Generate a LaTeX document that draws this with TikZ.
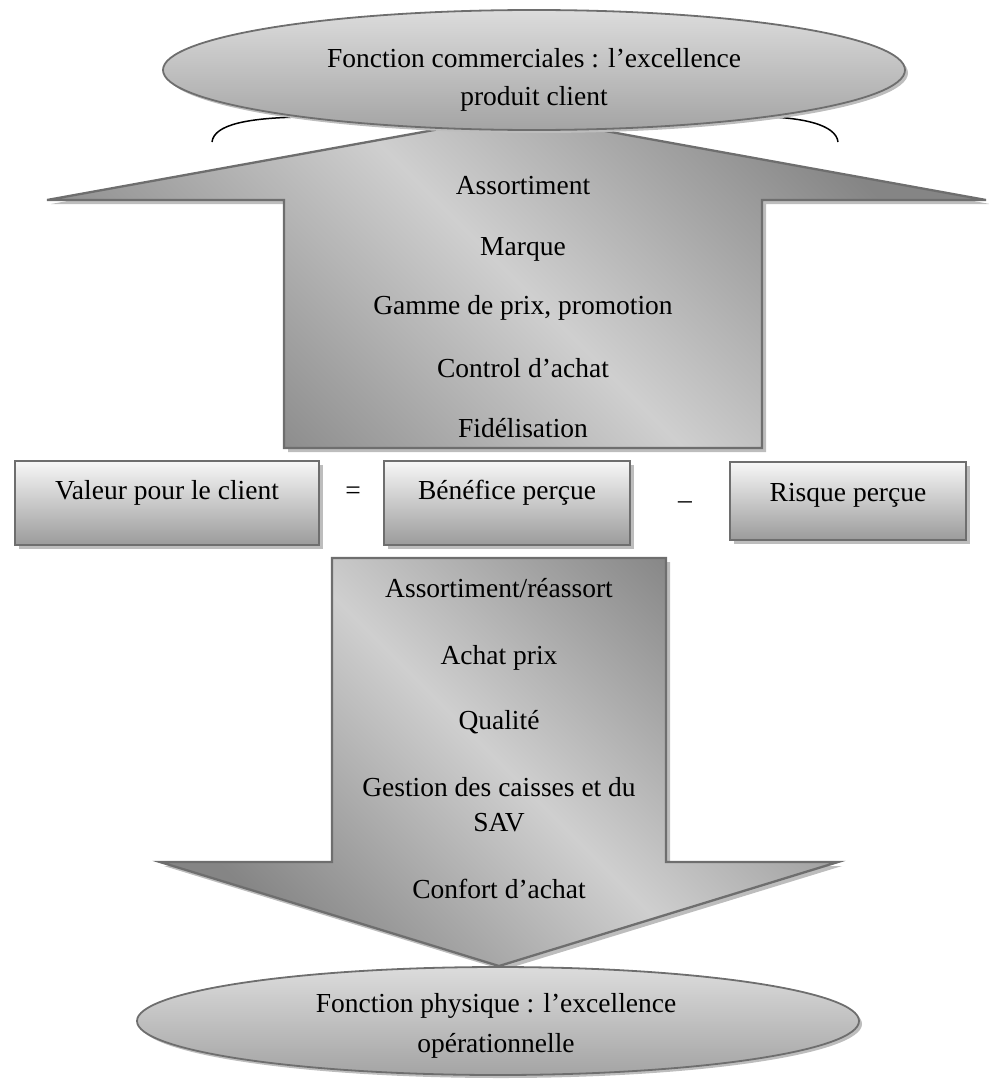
\documentclass[tikz,border=0pt]{standalone}
\usepackage{fontspec}
\setmainfont{Liberation Serif}
\usetikzlibrary{shapes.geometric,shadows}

\definecolor{edgegray}{HTML}{6E6E6E}
\definecolor{shadowgray}{HTML}{BDBDBD}
\definecolor{arrowdark}{HTML}{858585}
\definecolor{arrowlight}{HTML}{CFCFCF}
\definecolor{boxtop}{HTML}{F7F7F7}
\definecolor{boxbottom}{HTML}{9B9B9B}
\definecolor{ovaltop}{HTML}{DCDCDC}
\definecolor{ovalbottom}{HTML}{A4A4A4}

\tikzset{
  lbl/.style={anchor=base, inner sep=0pt, font=\fontsize{27.5}{33}\selectfont},
  dshadow/.style={drop shadow={shadow xshift=4pt, shadow yshift=-4pt, fill=shadowgray, opacity=1}},
  bigarrow/.style={draw=edgegray, line width=2.3pt, line join=miter,
    top color=arrowdark, bottom color=arrowdark, middle color=arrowlight,
    shading angle=-45, dshadow},
  valbox/.style={rectangle, draw=edgegray, line width=2.5pt,
    top color=boxtop, bottom color=boxbottom, dshadow, inner sep=0pt},
  oval/.style={ellipse, draw=edgegray, line width=1.8pt,
    top color=ovaltop, bottom color=ovalbottom, inner sep=0pt,
    drop shadow={shadow xshift=3pt, shadow yshift=-3pt, fill=shadowgray, opacity=1}},
  bracearc/.style={draw=black, line width=1.5pt}
}

\begin{document}
\begin{tikzpicture}[x=1pt,y=-1pt]
\useasboundingbox (0,0) rectangle (988,1081);

% upward arrow carrying the commercial levers
\draw[bigarrow] (517,115) -- (986,200) -- (762,200) -- (762,448)
  -- (284,448) -- (284,200) -- (47,200) -- cycle;

% bracket under the upper oval
\draw[bracearc] (212,142) .. controls (214,124) and (250,118) .. (300,117)
  -- (770,117) .. controls (800,118) and (836,124) .. (838,142);

% upper oval
\node[oval, minimum width=742pt, minimum height=120pt] (topoval) at (534,70) {};
\node[lbl] (toptxt1) at (534,67) {Fonction commerciales : l’excellence};
\node[lbl] (toptxt2) at (534,105) {produit client};

% levers in the upward arrow
\node[lbl] (u1) at (523,194) {Assortiment};
\node[lbl] (u2) at (523,255) {Marque};
\node[lbl] (u3) at (523,314) {Gamme de prix, promotion};
\node[lbl] (u4) at (523,377) {Control d’achat};
\node[lbl] (u5) at (523,437) {Fidélisation};

% value equation
\node[valbox, minimum width=304pt, minimum height=84pt] (vbox) at (167,503) {};
\node[lbl] (vtxt) at (167,499) {Valeur pour le client};
\node[lbl] (eq) at (353,499) {=};
\node[valbox, minimum width=246pt, minimum height=84pt] (bbox) at (507,503) {};
\node[lbl] (btxt) at (507,499) {Bénéfice perçue};
\node[lbl] (minus) at (685,499) {\_};
\node[valbox, minimum width=236pt, minimum height=78pt] (rbox) at (848,501) {};
\node[lbl] (rtxt) at (848,501) {Risque perçue};

% downward arrow carrying the operational levers
\draw[bigarrow] (332,558) -- (666,558) -- (666,862) -- (838,862)
  -- (499,966) -- (160,862) -- (332,862) -- cycle;

\node[lbl] (d1) at (499,597) {Assortiment/réassort};
\node[lbl] (d2) at (499,664) {Achat prix};
\node[lbl] (d3) at (499,729) {Qualité};
\node[lbl] (d4) at (499,796) {Gestion des caisses et du};
\node[lbl] (d5) at (499,831) {SAV};
\node[lbl] (d6) at (499,898) {Confort d’achat};

% lower oval
\node[oval, minimum width=722pt, minimum height=108pt] (botoval) at (498,1021) {};
\node[lbl] (bt1) at (496,1012) {Fonction physique : l’excellence};
\node[lbl] (bt2) at (496,1052) {opérationnelle};
\end{tikzpicture}
\end{document}
